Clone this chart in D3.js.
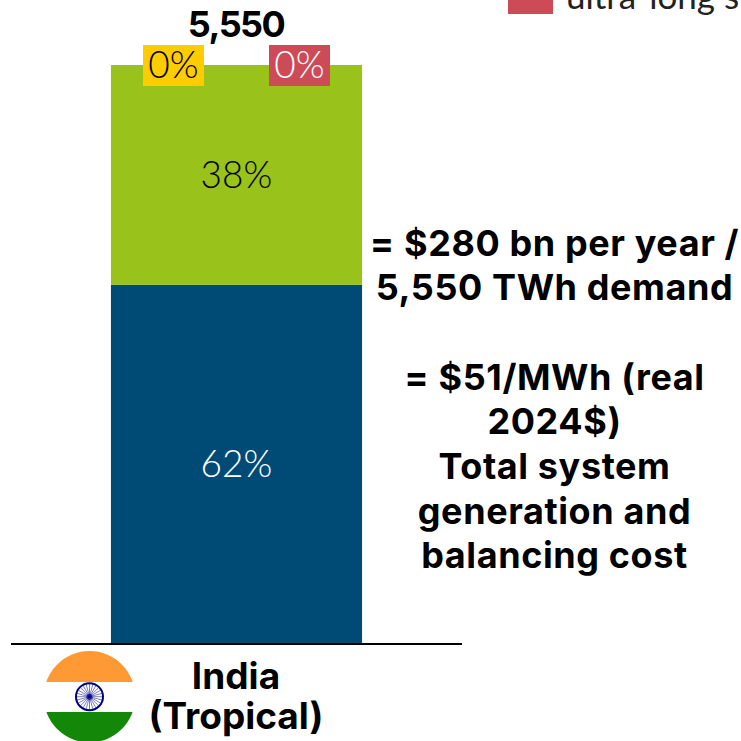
<!DOCTYPE html>
<html>
<head>
<meta charset="utf-8">
<script src="https://cdn.jsdelivr.net/npm/d3@7"></script>
<style>
    html, body { margin: 0; padding: 0; background: #fff; }
    svg { display: block; }
    text { text-anchor: middle; }
    .bold { font-family: Inter, Lato, sans-serif; font-weight: 700; fill: #000; }
    .pct { font-family: Lato, sans-serif; font-weight: 300; }
</style>
</head>
<body>
<svg id="chart" width="741" height="741"></svg>
<script>
"use strict";

const categories = ['India (Tropical)'];
const categoryLines = ['India', '(Tropical)'];
const seriesNames = ['short', 'medium', 'long', 'ultra-long storage'];
const seriesShares = [62, 38, 0, 0];
const seriesColors = ['#004b76', '#99c21a', '#ffcc00', '#cd4b57'];
const labelColors = ['#fff', '#000', '#000', '#fff'];
const totalDemand = 5550;
const noteLines = [
    '= $280 bn per year /',
    '5,550 TWh demand',
    '',
    '= $51/MWh (real',
    '2024$)',
    'Total system',
    'generation and',
    'balancing cost'
];

const svg = d3.select('#chart');

const yScale = d3.scaleLinear().domain([0, 100]).range([643, 65]);
const xScale = d3.scaleBand().domain(categories).range([11, 462]).paddingInner(0).paddingOuter(0.398);

// stacked bars, only the two non zero series have height
const stacked = d3.stack().keys([0, 1, 2, 3]).value((d, key) => d[key])([seriesShares]);
const bars = svg.append('g');
stacked.forEach((layer, i) => {
    const top = yScale(layer[0][1]);
    const bottom = yScale(layer[0][0]);
    if (bottom - top <= 0) {
        return;
    }
    bars.append('rect')
        .attr('x', xScale(categories[0]))
        .attr('y', top)
        .attr('width', xScale.bandwidth())
        .attr('height', bottom - top)
        .attr('fill', seriesColors[i]);
    bars.append('text')
        .attr('class', 'pct')
        .attr('x', xScale(categories[0]) + xScale.bandwidth() / 2)
        .attr('y', (top + bottom) / 2 + 13)
        .attr('font-size', 37)
        .attr('fill', labelColors[i])
        .text(seriesShares[i] + '%');
});

// the zero percent series are shown as small tags on top of the bar
const zeroTags = [
    { series: 2, x: 143, width: 61 },
    { series: 3, x: 269, width: 61 }
];
for (const tag of zeroTags) {
    svg.append('rect')
        .attr('x', tag.x)
        .attr('y', 45)
        .attr('width', tag.width)
        .attr('height', 41)
        .attr('fill', seriesColors[tag.series]);
    svg.append('text')
        .attr('class', 'pct')
        .attr('x', tag.x + tag.width / 2)
        .attr('y', 78)
        .attr('font-size', 37)
        .attr('fill', labelColors[tag.series])
        .text(seriesShares[tag.series] + '%');
}

// total on top
svg.append('text')
    .attr('class', 'bold')
    .attr('x', 236)
    .attr('y', 37)
    .attr('font-size', 36)
    .attr('letter-spacing', -1.6)
    .text(d3.format(',')(totalDemand));

// baseline
svg.append('line')
    .attr('x1', 11).attr('x2', 462)
    .attr('y1', 644).attr('y2', 644)
    .attr('stroke', '#000')
    .attr('stroke-width', 2);

// category label
categoryLines.forEach((line, i) => {
    svg.append('text')
        .attr('class', 'bold')
        .attr('x', 236)
        .attr('y', 689 + i * 39.5)
        .attr('font-size', 37)
        .text(line);
});

// legend, cut by the top of the picture
svg.append('rect')
    .attr('x', 508).attr('y', -20)
    .attr('width', 45).attr('height', 34)
    .attr('fill', seriesColors[3]);
svg.append('text')
    .attr('x', 566)
    .attr('y', 9)
    .attr('font-family', 'Lato, sans-serif')
    .attr('font-size', 35)
    .attr('font-weight', 400)
    .style('text-anchor', 'start')
    .attr('fill', '#222')
    .text(seriesNames[3]);

// note on the right
noteLines.forEach((line, i) => {
    svg.append('text')
        .attr('class', 'bold')
        .attr('x', 554.5)
        .attr('y', 255.5 + i * 44.7)
        .attr('font-size', 36)
        .attr('letter-spacing', 0.6)
        .text(line);
});

// flag
const flagX = 89.5;
const flagY = 696.7;
const flagRadius = 45.7;
const clipId = 'flag-clip';
svg.append('clipPath').attr('id', clipId)
    .append('circle').attr('cx', flagX).attr('cy', flagY).attr('r', flagRadius);
const flag = svg.append('g').attr('clip-path', `url(#${clipId})`);
flag.append('rect').attr('x', 40).attr('y', 645).attr('width', 100).attr('height', 37).attr('fill', '#ff9933');
flag.append('rect').attr('x', 40).attr('y', 712).attr('width', 100).attr('height', 35).attr('fill', '#138808');
const chakra = svg.append('g').attr('transform', `translate(${flagX},${flagY})`);
chakra.append('circle').attr('r', 13.5).attr('fill', '#fff').attr('stroke', '#000080').attr('stroke-width', 2);
chakra.append('circle').attr('r', 3).attr('fill', '#5050b0');
d3.range(24).forEach(i => {
    const angle = i / 24 * 2 * Math.PI;
    chakra.append('line')
        .attr('x1', 0).attr('y1', 0)
        .attr('x2', 13 * Math.cos(angle)).attr('y2', 13 * Math.sin(angle))
        .attr('stroke', '#000080')
        .attr('stroke-width', 0.5);
});
</script>
</body>
</html>
